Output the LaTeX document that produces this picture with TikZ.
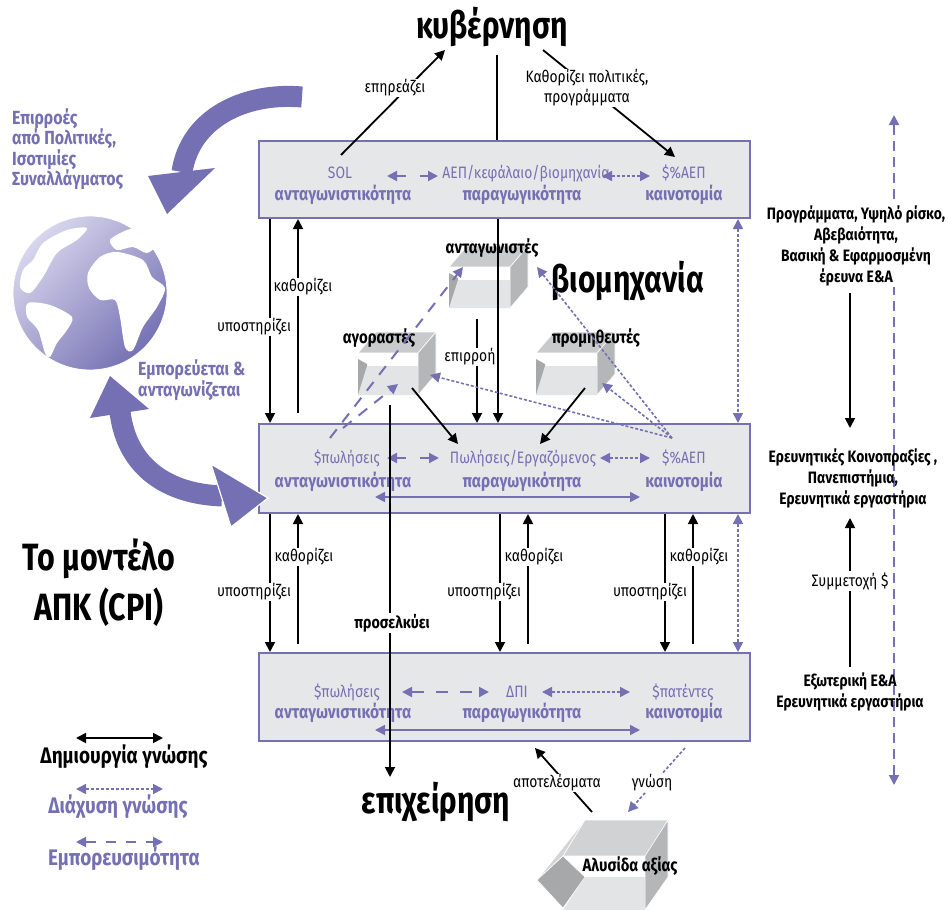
\documentclass[tikz,border=0pt]{standalone}
\usepackage{fontspec}
\setmainfont{Fira Sans}[FakeStretch=0.84]
\newfontfamily\titlefont{Fira Sans}[FakeStretch=0.80]
\usetikzlibrary{arrows.meta}
\definecolor{pur}{HTML}{7470B3}
\definecolor{boxfill}{HTML}{E6E7E8}
\definecolor{gtop}{HTML}{C9CACC}
\definecolor{gside}{HTML}{B5B6B8}
\definecolor{gwall}{HTML}{A7A8AA}
\definecolor{gfloor}{HTML}{E3E4E5}
\definecolor{globelight}{HTML}{DAD8EE}
\newcommand{\openbox}[4]{%
 \fill[gtop, draw=white, line width=0.6pt] (#1,#2) -- (#1+#3,#2) -- (#1+#3+18,#2-21) -- (#1+18,#2-21) -- cycle;
 \fill[gside, draw=white, line width=0.6pt] (#1+#3,#2) -- (#1+#3+18,#2-21) -- (#1+#3+18,#2+#4-21) -- (#1+#3,#2+#4) -- cycle;
 \fill[white] (#1,#2) rectangle (#1+#3,#2+#4);
 \fill[gwall] (#1,#2+6) -- (#1+9,#2+11) -- (#1+9,#2+#4-6) -- (#1,#2+#4) -- cycle;
 \fill[gfloor] (#1+9,#2+13) -- (#1+#3,#2+13) -- (#1+#3,#2+#4) -- (#1,#2+#4) -- cycle;
}
\tikzset{
 >={Triangle[length=10pt,width=10pt]},
 mainbox/.style={draw=pur, line width=2pt, fill=boxfill, anchor=north west, inner sep=0pt, minimum width=491pt},
 ptxt/.style={text=pur, font=\fontsize{16.5}{19}\selectfont, anchor=base, inner sep=0pt},
 pbold/.style={text=pur, font=\fontsize{18.5}{21}\selectfont\bfseries, anchor=base, inner sep=0pt},
 lab/.style={font=\fontsize{16.5}{19}\selectfont, fill=white, inner sep=1pt, align=center},
 labb/.style={font=\fontsize{17}{19}\selectfont\bfseries, fill=white, inner sep=1pt},
 bigt/.style={font=\titlefont\fontsize{37.5}{46}\selectfont\bfseries, inner sep=0pt, align=center},
 boxlbl/.style={font=\fontsize{17.8}{20}\selectfont\bfseries, inner sep=0pt},
 rtxt/.style={font=\fontsize{16.5}{21}\selectfont\bfseries, align=center, inner sep=1pt},
 ltxt/.style={font=\fontsize{19}{20.5}\selectfont\bfseries, text=pur, align=left, inner sep=0pt, anchor=west},
 legt/.style={font=\fontsize{22.5}{24}\selectfont\bfseries, inner sep=0pt},
 blk/.style={draw=black, line width=1.8pt},
 purdot/.style={draw=pur, line width=1.6pt, dash pattern=on 3pt off 2pt},
 purdash/.style={draw=pur, line width=2pt, dash pattern=on 11pt off 9pt},
 pursolid/.style={draw=pur, line width=1.8pt},
}
\begin{document}
\begin{tikzpicture}[x=1pt,y=-1pt]
\useasboundingbox (0,0) rectangle (948,910);
\fill[white] (0,0) rectangle (948,910);

% ---------- globe ----------
\begin{scope}
 \clip (90,293) circle[radius=77pt];
 \shade[top color=globelight, bottom color=pur, shading angle=45] (10,213) rectangle (170,373);
 \fill[white] plot[smooth cycle] coordinates {(88,273) (100,257) (117,252) (143,260) (152,277) (165,288) (157,307) (143,327) (133,350) (125,347) (120,317) (115,300) (100,300) (89,288)};
 \fill[white] plot[smooth cycle] coordinates {(28,303) (50,305) (72,317) (67,330) (57,343) (50,357) (45,353) (38,330) (27,317)};
 \fill[white] plot[smooth cycle] coordinates {(110,240) (127,230) (143,228) (157,243) (147,253) (133,247) (117,250)};
 \fill[white] plot[smooth cycle] coordinates {(23,270) (33,260) (43,243) (67,230) (87,228) (77,240) (57,253) (43,277) (30,293) (20,287)};
\end{scope}
\draw[white, line width=0.8pt] (90,293) circle[radius=77pt];

% ---------- big curved arrows ----------
\draw[pur, line width=21pt] (302,97) .. controls (245,92) and (190,118) .. (182,172);
\fill[pur] (148,176) -- (215,168) -- (167,214) -- cycle;
\draw[pur, line width=21pt] (120,412) .. controls (127,468) and (168,494) .. (222,496);
\fill[pur] (90,418) -- (110,376) -- (149,409) -- cycle;

% ---------- left texts ----------
\node[ltxt] (infl) at (12,149) {Επιρροές\\από Πολιτικές,\\Ισοτιμίες\\Συναλλάγματος};
\node[ltxt] (trade) at (138,380) {Εμπορεύεται \&\\ανταγωνίζεται};
\node[bigt, font=\titlefont\fontsize{38}{50}\selectfont\bfseries] (model) at (99,583) {Το μοντέλο\\ΑΠΚ (CPI)};

% ---------- main boxes ----------
\node[mainbox, minimum height=77pt] (b1) at (258,140) {};
\node[mainbox, minimum height=89pt] (b2) at (258,423) {};
\node[mainbox, minimum height=88pt] (b3) at (258,652) {};
\fill[pur, draw=white, line width=1.2pt] (211,464) -- (268,498) -- (231,527) -- cycle;

% ---------- 3D boxes ----------
\openbox{449}{267}{61}{41}
\openbox{358}{353}{60}{42}
\openbox{536}{353}{61}{42}
% value chain
\fill[gtop!80!white, draw=white, line width=0.6pt] (585,820) -- (563,856) -- (537,880) -- cycle;
\fill[gtop!85!white, draw=white, line width=0.6pt] (585,820) -- (668,820) -- (647,856) -- (563,856) -- cycle;
\fill[gside, draw=white, line width=0.6pt] (668,820) -- (668,877) -- (645,910) -- (645,856) -- cycle;
\fill[white] (563,856) rectangle (645,910);
\fill[gwall, draw=white, line width=0.6pt] (537,880) -- (563,856) -- (585,877) -- (563,908) -- cycle;
\fill[gfloor] (585,877) -- (645,877) -- (645,910) -- (563,910) -- cycle;

% ---------- titles ----------
\node[bigt] (gov) at (492,27) {κυβέρνηση};
\node[bigt] (ind) at (628,281) {βιομηχανία};
\node[bigt] (firm) at (436,802) {επιχείρηση};

\node[boxlbl] (comp) at (492,248) {ανταγωνιστές};
\node[boxlbl] (buy) at (379,338) {αγοραστές};
\node[boxlbl] (sup) at (596,338) {προμηθευτές};
\node[boxlbl] (vc) at (630,866) {Αλυσίδα αξίας};

% ---------- box texts ----------
\node[ptxt] (s1a) at (340,178) {SOL};
\node[pbold] (s1b) at (343,200) {ανταγωνιστικότητα};
\node[ptxt] (p1a) at (526,178) {ΑΕΠ/κεφάλαιο/βιομηχανία};
\node[pbold] (p1b) at (522,200) {παραγωγικότητα};
\node[ptxt] (i1a) at (684,178) {\$\%ΑΕΠ};
\node[pbold] (i1b) at (684,200) {καινοτομία};

\node[ptxt] (s2a) at (347,463) {\$πωλήσεις};
\node[pbold] (s2b) at (343,487) {ανταγωνιστικότητα};
\node[ptxt] (p2a) at (523,463) {Πωλήσεις/Εργαζόμενος};
\node[pbold] (p2b) at (522,487) {παραγωγικότητα};
\node[ptxt] (i2a) at (684,463) {\$\%ΑΕΠ};
\node[pbold] (i2b) at (684,487) {καινοτομία};

\node[ptxt] (s3a) at (347,697) {\$πωλήσεις};
\node[pbold] (s3b) at (343,718) {ανταγωνιστικότητα};
\node[ptxt] (p3a) at (517,697) {ΔΠΙ};
\node[pbold] (p3b) at (522,718) {παραγωγικότητα};
\node[ptxt] (i3a) at (683,697) {\$πατέντες};
\node[pbold] (i3b) at (684,718) {καινοτομία};

% ---------- in-box arrows ----------
\coordinate (a1l) at (387,176); \coordinate (a1r) at (438,176);
\coordinate (d1l) at (602,176); \coordinate (d1r) at (650,176);
\coordinate (a2l) at (387,458); \coordinate (a2r) at (439,458);
\coordinate (d2l) at (600,458); \coordinate (d2r) at (650,458);
\coordinate (l2l) at (375,497); \coordinate (l2r) at (640,497);
\coordinate (a3l) at (402,692); \coordinate (a3r) at (489,692);
\coordinate (d3l) at (542,692); \coordinate (d3r) at (630,692);
\coordinate (l3l) at (375,730); \coordinate (l3r) at (640,730);
\draw[purdash, dash pattern=on 9pt off 14pt, <->] (a1l) -- (a1r);
\draw[purdot, <->] (d1l) -- (d1r);
\draw[purdash, dash pattern=on 9pt off 14pt, <->] (a2l) -- (a2r);
\draw[purdot, <->] (d2l) -- (d2r);
\draw[pursolid, <->] (l2l) -- (l2r);
\draw[purdash, dash pattern=on 12pt off 12pt, <->] (a3l) -- (a3r);
\draw[purdot, <->] (d3l) -- (d3r);
\draw[pursolid, <->] (l3l) -- (l3r);

% ---------- government arrows ----------
\coordinate (inflS) at (341,155); \coordinate (inflE) at (445,50);
\draw[blk, ->] (inflS) -- (inflE);
\node[lab] (infll) at (395,88) {επηρεάζει};
\coordinate (polS) at (543,50); \coordinate (polE) at (675,157);
\draw[blk, ->] (polS) -- (polE);
\node[lab, font=\fontsize{16.5}{20}\selectfont] (poll) at (587,88) {Καθορίζει πολιτικές,\\προγράμματα};
\coordinate (gvtop) at (497,55);
\draw[blk] (gvtop) -- (gvtop |- b1.north);

% ---------- vertical black arrows ----------
\coordinate (xL1) at (270,0); \coordinate (xL2) at (298,0);
\coordinate (xM1) at (500,0); \coordinate (xM2) at (528,0);
\coordinate (xR1) at (665,0); \coordinate (xR2) at (693,0);
\coordinate (xV) at (498,0); \coordinate (xE) at (477,0);
\coordinate (uL) at (298,413); \coordinate (uL2) at (298,644);
\coordinate (uM) at (528,644); \coordinate (uR) at (693,644);

\draw[blk, ->] (xL1 |- b1.south) -- (xL1 |- b2.north);
\draw[blk, ->] (uL) -- (xL2 |- b1.south);
\draw[blk, ->] (xL1 |- b2.south) -- (xL1 |- b3.north);
\draw[blk, ->] (uL2) -- (xL2 |- b2.south);
\draw[blk, ->] (xM1 |- b2.south) -- (xM1 |- b3.north);
\draw[blk, ->] (uM) -- (xM2 |- b2.south);
\draw[blk, ->] (xR1 |- b2.south) -- (xR1 |- b3.north);
\draw[blk, ->] (uR) -- (xR2 |- b2.south);
\node[lab] (k1) at (303,287) {καθορίζει};
\node[lab] (u1) at (254,327) {υποστηρίζει};
\node[lab] (k2) at (304,557) {καθορίζει};
\node[lab] (u2) at (254,592) {υποστηρίζει};
\node[lab] (k3) at (534,557) {καθορίζει};
\node[lab] (u3) at (484,592) {υποστηρίζει};
\node[lab] (k4) at (699,557) {καθορίζει};
\node[lab] (u4) at (650,592) {υποστηρίζει};

\draw[blk, ->] (xV |- b1.south) -- (xV |- b2.north);
\coordinate (epS) at (477,319);
\draw[blk, ->] (epS) -- (xE |- b2.north);
\node[lab] (epl) at (470,357) {επιρροή};

\coordinate (byS) at (412,388); \coordinate (byE) at (458,444);
\coordinate (spS) at (585,388); \coordinate (spE) at (540,444);
\draw[blk, ->] (byS) -- (byE);
\draw[blk, ->] (spS) -- (spE);

\coordinate (atS) at (390,405); \coordinate (atE) at (390,777);
\draw[blk, ->] (atS) -- (atE);
\node[labb] (atl) at (392,623) {προσελκύει};

% ---------- purple dashed/dotted to 3D boxes ----------
\coordinate (pw1) at (330,438); \coordinate (cmL) at (463,267);
\coordinate (pw2) at (343,428); \coordinate (byL) at (398,384);
\coordinate (gdp) at (672,438); \coordinate (cmR) at (537,267);
\coordinate (byR) at (430,375); \coordinate (spR) at (602,383);
\draw[purdash, ->] (pw1) -- (cmL);
\draw[purdash, ->] (pw2) -- (byL);
\draw[purdot, ->] (gdp) -- (cmR);
\draw[purdot, ->] (gdp) -- (byR);
\draw[purdot, ->] (gdp) -- (spR);

% right dotted double arrows between boxes
\coordinate (xD) at (738,0);
\draw[purdot, <->] (xD |- b1.south) -- (xD |- b2.north);
\draw[purdot, <->] (xD |- b2.south) -- (xD |- b3.north);

% ---------- bottom arrows ----------
\coordinate (resS) at (592,812); \coordinate (resE) at (535,748);
\draw[blk, ->] (resS) -- (resE);
\node[lab] (resl) at (557,783) {αποτελέσματα};
\coordinate (knS) at (685,748); \coordinate (knE) at (628,812);
\draw[purdot, ->] (knS) -- (knE);
\node[lab] (knl) at (652,783) {γνώση};

% ---------- right column ----------
\coordinate (rT) at (894,115); \coordinate (rB) at (894,785);
\draw[draw=pur, line width=2pt, dash pattern=on 10pt off 6pt, <->] (rT) -- (rB);
\node[rtxt, fill=white] (prog) at (856,246) {Προγράμματα, Υψηλό ρίσκο,\\Αβεβαιότητα,\\Βασική \& Εφαρμοσμένη\\έρευνα Ε\&Α};
\node[rtxt] (cons) at (853,478) {Ερευνητικές Κοινοπραξίες ,\\Πανεπιστήμια,\\Ερευνητικά εργαστήρια};
\node[rtxt] (ext) at (850,692) {Εξωτερική Ε\&Α\\Ερευνητικά εργαστήρια};
\coordinate (rd1) at (850,293); \coordinate (rd2) at (850,428);
\coordinate (ru1) at (850,667); \coordinate (ru2) at (850,518);
\draw[blk, ->] (rd1) -- (rd2);
\draw[blk, ->] (ru1) -- (ru2);
\node[lab] (part) at (850,581) {Συμμετοχή \$};

% ---------- legend ----------
\coordinate (g1l) at (76,738); \coordinate (g1r) at (163,738);
\coordinate (g2l) at (76,789); \coordinate (g2r) at (163,789);
\coordinate (g3l) at (76,842); \coordinate (g3r) at (163,842);
\draw[blk, <->] (g1l) -- (g1r);
\draw[purdot, <->] (g2l) -- (g2r);
\draw[purdash, dash pattern=on 10pt off 10pt, <->] (g3l) -- (g3r);
\node[legt] (lg1) at (124,757) {Δημιουργία γνώσης};
\node[legt, text=pur] (lg2) at (118,807) {Διάχυση γνώσης};
\node[legt, text=pur] (lg3) at (124,859) {Εμπορευσιμότητα};
\end{tikzpicture}
\end{document}
